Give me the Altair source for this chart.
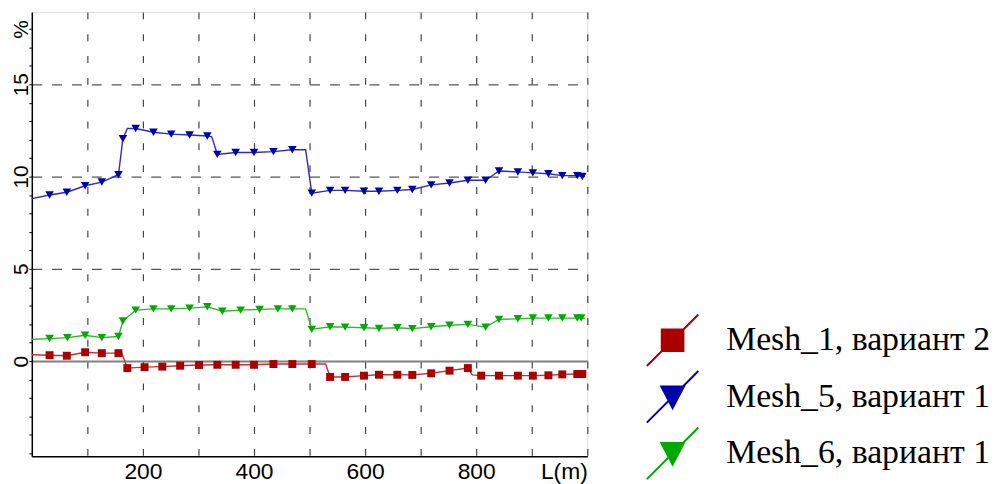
import altair as alt
import pandas as pd

S1 = "Mesh_1, вариант 2"
S5 = "Mesh_5, вариант 1"
S6 = "Mesh_6, вариант 1"
series_names = [S1, S5, S6]
marker_colors = ["#aa0000", "#0000aa", "#00aa00"]
line_colors = ["#c43030", "#2a2ac8", "#2cb82c"]
marker_shapes = ["square", "triangle-down", "triangle-down"]

# legend glyphs: diagonal line with the marker on it
sq_path = "M-1,1L1,-1M-0.42,-0.42L0.42,-0.42L0.42,0.42L-0.42,0.42Z"
tri_path = "M-1,1L1,-1M-0.44,-0.4L0.44,-0.4L0,0.44Z"
legend_shapes = [sq_path, tri_path, tri_path]

# ---- Mesh_5 (blue) ----
blue_mx = [32, 63, 96, 126, 156, 164, 187, 219, 251, 284, 316, 334, 367, 400, 435, 469,
           504, 537, 564, 598, 625, 658, 685, 719, 752, 785, 817, 841, 875, 902, 930, 955, 982, 991]
blue_my = [9.0, 9.15, 9.5, 9.7, 10.1, 12.05, 12.6, 12.4, 12.3, 12.25, 12.2, 11.2, 11.3, 11.3, 11.35, 11.45,
           9.1, 9.25, 9.25, 9.2, 9.2, 9.25, 9.3, 9.55, 9.65, 9.8, 9.8, 10.3, 10.25, 10.2, 10.15, 10.05, 10.05, 10.0]
blue_lx = [0, 32, 63, 96, 126, 156, 164, 172, 187, 219, 251, 284, 316, 324, 334, 367, 400, 435, 469, 493,
           504, 537, 564, 598, 625, 658, 685, 719, 752, 785, 817, 841, 875, 902, 930, 955, 982, 991, 996]
blue_ly = [8.8, 9.0, 9.15, 9.5, 9.7, 10.1, 12.05, 12.6, 12.6, 12.4, 12.3, 12.25, 12.2, 12.15, 11.2, 11.3, 11.3, 11.35, 11.45, 11.45,
           9.1, 9.25, 9.25, 9.2, 9.2, 9.25, 9.3, 9.55, 9.65, 9.8, 9.8, 10.3, 10.25, 10.2, 10.15, 10.05, 10.05, 10.0, 10.0]

# ---- Mesh_1 (red) ----
red_mx = [32, 63, 96, 126, 156, 172, 203, 235, 267, 301, 334, 367, 400, 435, 469, 504,
          537, 564, 598, 625, 658, 685, 719, 752, 785, 809, 841, 875, 902, 930, 955, 982, 991]
red_my = [0.32, 0.29, 0.48, 0.43, 0.43, -0.38, -0.33, -0.30, -0.25, -0.21, -0.20, -0.20, -0.20, -0.16, -0.16, -0.16,
          -0.86, -0.86, -0.79, -0.74, -0.74, -0.75, -0.66, -0.52, -0.38, -0.79, -0.79, -0.79, -0.79, -0.77, -0.72, -0.70, -0.70]
red_lx = [0, 32, 63, 96, 126, 156, 162, 172, 203, 235, 267, 301, 334, 367, 400, 435, 469, 504, 529,
          537, 564, 598, 625, 658, 685, 719, 752, 785, 793, 809, 841, 875, 902, 930, 955, 982, 991, 996]
red_ly = [0.34, 0.32, 0.29, 0.48, 0.43, 0.43, 0.43, -0.38, -0.33, -0.30, -0.25, -0.21, -0.20, -0.20, -0.20, -0.16, -0.16, -0.16, -0.16,
          -0.86, -0.86, -0.79, -0.74, -0.74, -0.75, -0.66, -0.52, -0.38, -0.75, -0.79, -0.79, -0.79, -0.79, -0.77, -0.72, -0.70, -0.70, -0.70]

# ---- Mesh_6 (green) ----
green_mx = [32, 64, 96, 126, 156, 164, 187, 219, 251, 284, 316, 343, 376, 410, 443, 469,
            504, 537, 564, 598, 625, 658, 685, 719, 752, 785, 817, 841, 875, 902, 930, 955, 982, 989]
green_my = [1.22, 1.27, 1.40, 1.27, 1.33, 2.17, 2.76, 2.83, 2.83, 2.87, 2.94, 2.70, 2.76, 2.80, 2.83, 2.83,
            1.72, 1.86, 1.84, 1.81, 1.77, 1.81, 1.76, 1.86, 1.94, 1.99, 1.84, 2.26, 2.29, 2.33, 2.33, 2.33, 2.33, 2.33]
green_lx = [0] + green_mx[:16] + [493] + green_mx[16:] + [996]
green_ly = [1.18] + green_my[:16] + [2.83] + green_my[16:] + [2.33]

x_grid_values = [100, 200, 300, 400, 500, 600, 700, 800, 900, 1000]
y_tick_values = list(range(-5, 19))


def frame(i, xs, ys):
    return pd.DataFrame({"x": xs, "v": ys, "series": series_names[i],
                         "lcolor": line_colors[i], "mcolor": marker_colors[i], "shape": marker_shapes[i]})


lines_df = pd.concat([frame(0, red_lx, red_ly), frame(1, blue_lx, blue_ly), frame(2, green_lx, green_ly)])
pts_df = pd.concat([frame(0, red_mx, red_my), frame(1, blue_mx, blue_my), frame(2, green_mx, green_my)])

x_enc = alt.X(
    "x:Q",
    scale=alt.Scale(domain=[0, 1000], nice=False, zero=False),
    axis=alt.Axis(
        title=None,
        values=x_grid_values,
        labelExpr="datum.value == 1000 ? 'L(m)' : (datum.value % 200 == 0 ? datum.label : '')",
        labelAlign={"condition": {"test": "datum.value == 1000", "value": "right"}, "value": "center"},
        labelFont="Liberation Sans",
        labelFontSize=23,
        labelColor="#000000",
        labelPadding=4,
        labelOverlap=False,
        labelFlush=False,
        labelBound=False,
        ticks=False,
        domainColor="#000000",
        domainWidth=1.5,
        grid=True,
        gridColor="#444444",
        gridDash=[7, 15],
        gridWidth=1.2,
    ),
)

grid_test = "datum.value == 0 || datum.value == 5 || datum.value == 10 || datum.value == 15"
y_enc = alt.Y(
    "v:Q",
    scale=alt.Scale(domain=[-5.16, 18.92], nice=False, zero=False),
    axis=alt.Axis(
        title=None,
        values=y_tick_values,
        labelExpr="datum.value == 18 ? '%' : ((datum.value % 5 == 0 && datum.value >= 0) ? datum.label : '')",
        labelAngle=270,
        labelAlign="center",
        labelBaseline="alphabetic",
        labelFont="Liberation Sans",
        labelFontSize=21,
        labelColor="#000000",
        labelPadding=1,
        labelOverlap=False,
        labelFlush=False,
        labelBound=False,
        tickSize=3,
        tickColor="#000000",
        domainColor="#000000",
        domainWidth=1.5,
        grid=True,
        gridOpacity={"condition": {"test": grid_test, "value": 1}, "value": 0},
        gridColor={"condition": {"test": "datum.value == 0", "value": "#808080"}, "value": "#555555"},
        gridDash={"condition": {"test": "datum.value == 0", "value": []}, "value": [10, 10]},
        gridWidth={"condition": {"test": "datum.value == 0", "value": 2}, "value": 1.2},
    ),
)

legend_props = dict(
    title=None,
    orient="none",
    legendX=619,
    legendY=304,
    padding=0,
    symbolSize=2704,
    symbolStrokeWidth=2,
    symbolOpacity=1,
    labelFont="Liberation Serif",
    labelFontSize=34,
    labelColor="#000000",
    labelOffset=27,
    labelLimit=500,
    rowPadding=-4,
)

line_layer = alt.Chart(lines_df).mark_line(strokeWidth=1.4).encode(
    x=x_enc,
    y=y_enc,
    color=alt.Color("lcolor:N", scale=None),
    detail="series:N",
)

sq_layer = alt.Chart(pts_df).transform_filter("datum.shape == 'square'").mark_point(
    filled=True, opacity=1, size=64, shape="square").encode(
    x=x_enc, y=y_enc, fill=alt.Fill("mcolor:N", scale=None))

tri_layer = alt.Chart(pts_df).transform_filter("datum.shape == 'triangle-down'").mark_point(
    filled=True, opacity=1, size=75, shape="triangle-down").encode(
    x=x_enc, y=y_enc, fill=alt.Fill("mcolor:N", scale=None))

legend_layer = alt.Chart(pts_df).transform_filter("false").mark_point(
    filled=True, opacity=1, size=2704, strokeWidth=2).encode(
    x=x_enc,
    y=y_enc,
    fill=alt.Fill("series:N", scale=alt.Scale(domain=series_names, range=marker_colors),
                  legend=alt.Legend(**legend_props)),
    stroke=alt.Stroke("series:N", scale=alt.Scale(domain=series_names, range=marker_colors),
                      legend=alt.Legend(**legend_props)),
    shape=alt.Shape("series:N", scale=alt.Scale(domain=series_names, range=legend_shapes),
                    legend=alt.Legend(**legend_props)),
)

chart = alt.layer(line_layer, sq_layer, tri_layer, legend_layer).properties(
    width=560,
    height=448,
    autosize=alt.AutoSizeParams(type="none"),
    padding={"left": 24, "top": 2, "right": 409, "bottom": 32},
).configure_view(stroke=None).configure(background="#ffffff")

chart.save("out.html", embed_options={"renderer": "svg", "actions": False})
